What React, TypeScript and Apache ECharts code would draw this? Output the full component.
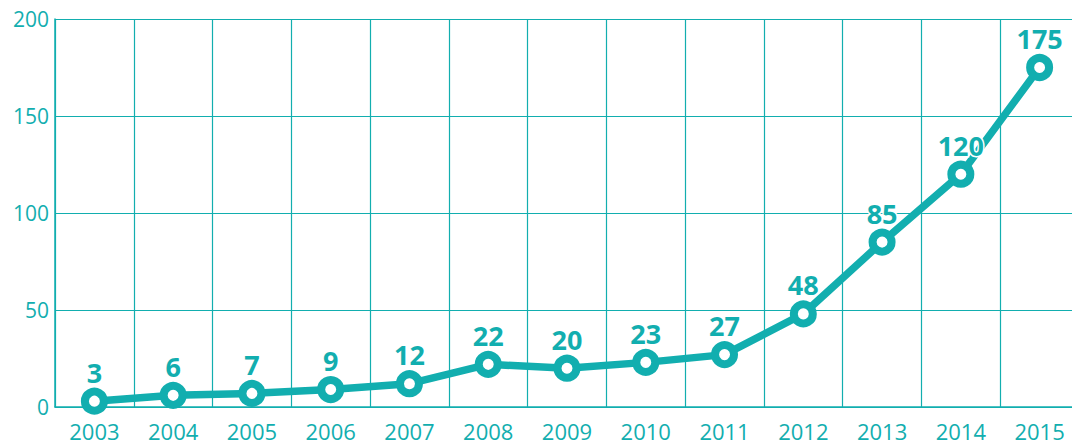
import React, { useEffect, useRef } from "react";
import * as echarts from "echarts";

const years = ["2003", "2004", "2005", "2006", "2007", "2008", "2009", "2010", "2011", "2012", "2013", "2014", "2015"];
const values = [3, 6, 7, 9, 12, 22, 20, 23, 27, 48, 85, 120, 175];
const yTicks = { min: 0, max: 200, interval: 50 };

const TEAL = "#12aeaf";

export default function App() {
  const ref = useRef<HTMLDivElement>(null);
  useEffect(() => {
    if (!ref.current) return;
    const chart = echarts.init(ref.current, null, { renderer: "svg" });
    chart.setOption({
      animation: false,
      backgroundColor: "#ffffff",
      grid: { left: 55, right: 0, top: 19, bottom: 38, containLabel: false },
      xAxis: {
        type: "category",
        data: years,
        boundaryGap: true,
        axisLine: { show: true, lineStyle: { color: TEAL, width: 1.5 } },
        axisTick: { show: false },
        splitLine: { show: true, lineStyle: { color: TEAL, width: 1.2 } },
        axisLabel: {
          color: TEAL,
          fontFamily: "Open Sans",
          fontSize: 22,
          margin: 13,
          interval: 0,
        },
      },
      yAxis: {
        type: "value",
        min: yTicks.min,
        max: yTicks.max,
        interval: yTicks.interval,
        axisLine: { show: true, lineStyle: { color: TEAL, width: 1.5 } },
        axisTick: { show: false },
        splitLine: { show: true, lineStyle: { color: TEAL, width: 1.2 } },
        axisLabel: {
          color: TEAL,
          fontFamily: "Open Sans",
          fontSize: 21,
          margin: 6,
        },
      },
      series: [
        {
          type: "line",
          data: values,
          lineStyle: { color: TEAL, width: 7.5 },
          symbol: "circle",
          symbolSize: 19,
          itemStyle: { color: "#ffffff", borderColor: TEAL, borderWidth: 8 },
          label: {
            show: true,
            position: "top",
            distance: 2,
            color: TEAL,
            fontFamily: "Noto Sans",
            fontWeight: "bold",
            fontSize: 27,
            textBorderColor: "#ffffff",
            textBorderWidth: 3,
          },
          z: 5,
        },
      ],
    });
    return () => chart.dispose();
  }, []);
  return (
    <div
      ref={ref}
      style={{ position: "fixed", left: 0, top: 0, width: 1079, height: 445 }}
    />
  );
}
